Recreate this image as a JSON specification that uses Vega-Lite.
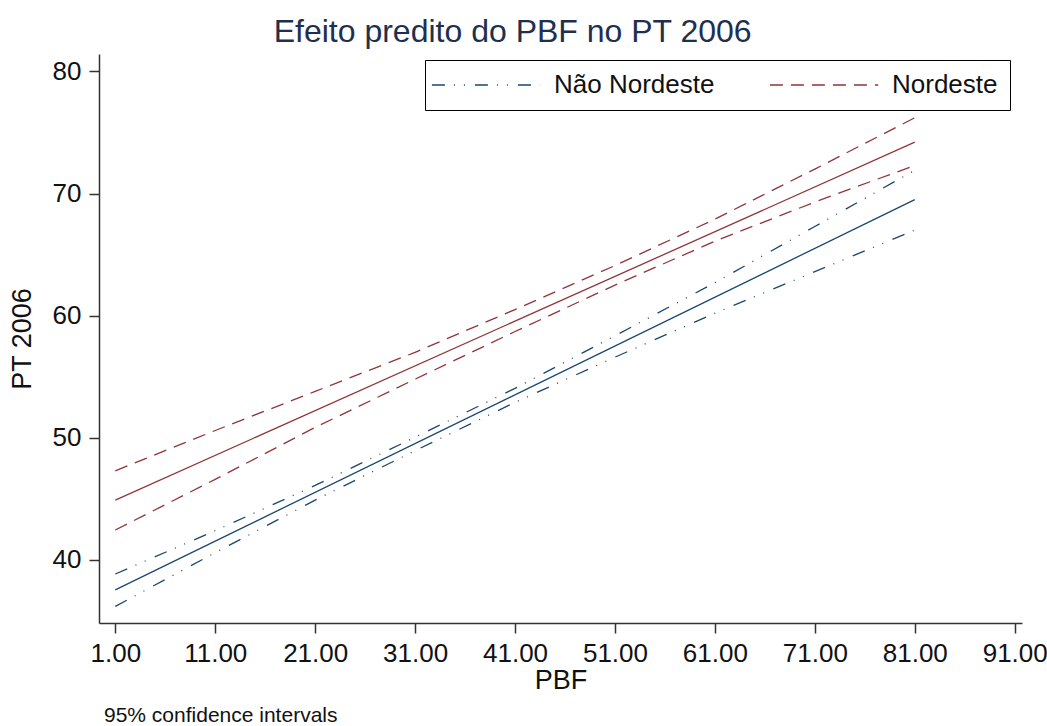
{
  "$schema": "https://vega.github.io/schema/vega-lite/v6.json",
  "background": "white",
  "padding": {"left": 8, "top": 16, "right": 0, "bottom": 0},
  "title": {"text": "Efeito predito do PBF no PT 2006", "fontSize": 32, "font": "Liberation Sans", "fontWeight": "normal", "color": "#1e2f4f", "anchor": "middle", "offset": 5, "dx": -15},
  "config": {
    "font": "Liberation Sans",
    "view": {"stroke": null},
    "axis": {"grid": false, "domainColor": "#333333", "tickColor": "#333333", "labelColor": "#111111", "titleColor": "#111111", "labelFont": "Liberation Sans", "titleFont": "Liberation Sans", "labelFontSize": 26, "titleFontSize": 27, "titleFontWeight": "normal", "tickSize": 10, "domainWidth": 1.5, "tickWidth": 1.5}
  },
  "vconcat": [
    {
      "width": 923,
      "height": 569,
      "title": {"text": "95% confidence intervals", "orient": "bottom", "anchor": "start", "frame": "group", "fontSize": 21, "fontWeight": "normal", "color": "#111111", "font": "Liberation Sans", "dx": 5, "offset": 12},
      "data": {"values": [
        {"pbf": 1, "grupo": "Não Nordeste", "tipo": "lo", "pt": 36.2},
        {"pbf": 11, "grupo": "Não Nordeste", "tipo": "lo", "pt": 40.6},
        {"pbf": 21, "grupo": "Não Nordeste", "tipo": "lo", "pt": 44.9},
        {"pbf": 31, "grupo": "Não Nordeste", "tipo": "lo", "pt": 48.95},
        {"pbf": 41, "grupo": "Não Nordeste", "tipo": "lo", "pt": 52.9},
        {"pbf": 51, "grupo": "Não Nordeste", "tipo": "lo", "pt": 56.6},
        {"pbf": 61, "grupo": "Não Nordeste", "tipo": "lo", "pt": 60.2},
        {"pbf": 71, "grupo": "Não Nordeste", "tipo": "lo", "pt": 63.6},
        {"pbf": 81, "grupo": "Não Nordeste", "tipo": "lo", "pt": 67.0},
        {"pbf": 1, "grupo": "Não Nordeste", "tipo": "c", "pt": 37.55},
        {"pbf": 81, "grupo": "Não Nordeste", "tipo": "c", "pt": 69.5},
        {"pbf": 1, "grupo": "Não Nordeste", "tipo": "hi", "pt": 38.85},
        {"pbf": 11, "grupo": "Não Nordeste", "tipo": "hi", "pt": 42.4},
        {"pbf": 21, "grupo": "Não Nordeste", "tipo": "hi", "pt": 46.1},
        {"pbf": 31, "grupo": "Não Nordeste", "tipo": "hi", "pt": 50.05},
        {"pbf": 41, "grupo": "Não Nordeste", "tipo": "hi", "pt": 54.05},
        {"pbf": 51, "grupo": "Não Nordeste", "tipo": "hi", "pt": 58.35},
        {"pbf": 61, "grupo": "Não Nordeste", "tipo": "hi", "pt": 62.7},
        {"pbf": 71, "grupo": "Não Nordeste", "tipo": "hi", "pt": 67.3},
        {"pbf": 81, "grupo": "Não Nordeste", "tipo": "hi", "pt": 71.9},
        {"pbf": 1, "grupo": "Nordeste", "tipo": "lo", "pt": 42.45},
        {"pbf": 11, "grupo": "Nordeste", "tipo": "lo", "pt": 46.6},
        {"pbf": 21, "grupo": "Nordeste", "tipo": "lo", "pt": 50.85},
        {"pbf": 31, "grupo": "Nordeste", "tipo": "lo", "pt": 54.8},
        {"pbf": 41, "grupo": "Nordeste", "tipo": "lo", "pt": 58.7},
        {"pbf": 51, "grupo": "Nordeste", "tipo": "lo", "pt": 62.5},
        {"pbf": 61, "grupo": "Nordeste", "tipo": "lo", "pt": 66.1},
        {"pbf": 71, "grupo": "Nordeste", "tipo": "lo", "pt": 69.3},
        {"pbf": 81, "grupo": "Nordeste", "tipo": "lo", "pt": 72.3},
        {"pbf": 1, "grupo": "Nordeste", "tipo": "c", "pt": 44.9},
        {"pbf": 81, "grupo": "Nordeste", "tipo": "c", "pt": 74.2},
        {"pbf": 1, "grupo": "Nordeste", "tipo": "hi", "pt": 47.3},
        {"pbf": 11, "grupo": "Nordeste", "tipo": "hi", "pt": 50.6},
        {"pbf": 21, "grupo": "Nordeste", "tipo": "hi", "pt": 53.8},
        {"pbf": 31, "grupo": "Nordeste", "tipo": "hi", "pt": 57.0},
        {"pbf": 41, "grupo": "Nordeste", "tipo": "hi", "pt": 60.5},
        {"pbf": 51, "grupo": "Nordeste", "tipo": "hi", "pt": 64.1},
        {"pbf": 61, "grupo": "Nordeste", "tipo": "hi", "pt": 67.9},
        {"pbf": 71, "grupo": "Nordeste", "tipo": "hi", "pt": 72.0},
        {"pbf": 81, "grupo": "Nordeste", "tipo": "hi", "pt": 76.2}
      ]},
      "encoding": {
        "x": {"field": "pbf", "type": "quantitative", "title": "PBF", "scale": {"domain": [-0.63, 91.73], "nice": false, "zero": false}, "axis": {"values": [1, 11, 21, 31, 41, 51, 61, 71, 81, 91], "format": ".2f", "labelPadding": 7, "titlePadding": 1}},
        "y": {"field": "pt", "type": "quantitative", "title": "PT 2006", "scale": {"domain": [34.84, 81.42], "nice": false, "zero": false}, "axis": {"values": [40, 50, 60, 70, 80], "labelPadding": 8, "titlePadding": 16}}
      },
      "layer": [
        {
          "transform": [{"filter": "datum.tipo !== 'c'"}],
          "mark": {"type": "line", "strokeWidth": 1.3},
          "encoding": {
            "detail": {"field": "tipo"},
            "color": {"field": "grupo", "type": "nominal", "scale": {"domain": ["Não Nordeste", "Nordeste"], "range": ["#1a476f", "#90353b"]}, "legend": {"title": null, "orient": "none", "legendX": 326, "legendY": 6, "direction": "horizontal", "symbolType": "M-10,0H10", "symbolSize": 117, "symbolStrokeWidth": 1.5, "symbolOffset": 36, "labelFontSize": 26, "labelFont": "Liberation Sans", "labelColor": "#111111", "labelLimit": 400, "strokeColor": "#000000", "padding": 12, "columnPadding": 51, "labelOffset": 55, "fillColor": "white"}},
            "strokeDash": {"field": "grupo", "type": "nominal", "scale": {"domain": ["Não Nordeste", "Nordeste"], "range": [[13, 9, 1, 9, 1, 10], [13, 8]]}, "legend": {"title": null, "orient": "none", "legendX": 326, "legendY": 6, "direction": "horizontal", "symbolType": "M-10,0H10", "symbolSize": 117, "symbolStrokeWidth": 1.5, "symbolOffset": 36, "labelFontSize": 26, "labelFont": "Liberation Sans", "labelColor": "#111111", "labelLimit": 400, "strokeColor": "#000000", "padding": 12, "columnPadding": 51, "labelOffset": 55, "fillColor": "white"}}
          }
        },
        {
          "transform": [{"filter": "datum.tipo === 'c'"}],
          "mark": {"type": "line", "strokeWidth": 1.3},
          "encoding": {
            "color": {"field": "grupo", "type": "nominal", "legend": null}
          }
        }
      ]
    }
  ]
}
